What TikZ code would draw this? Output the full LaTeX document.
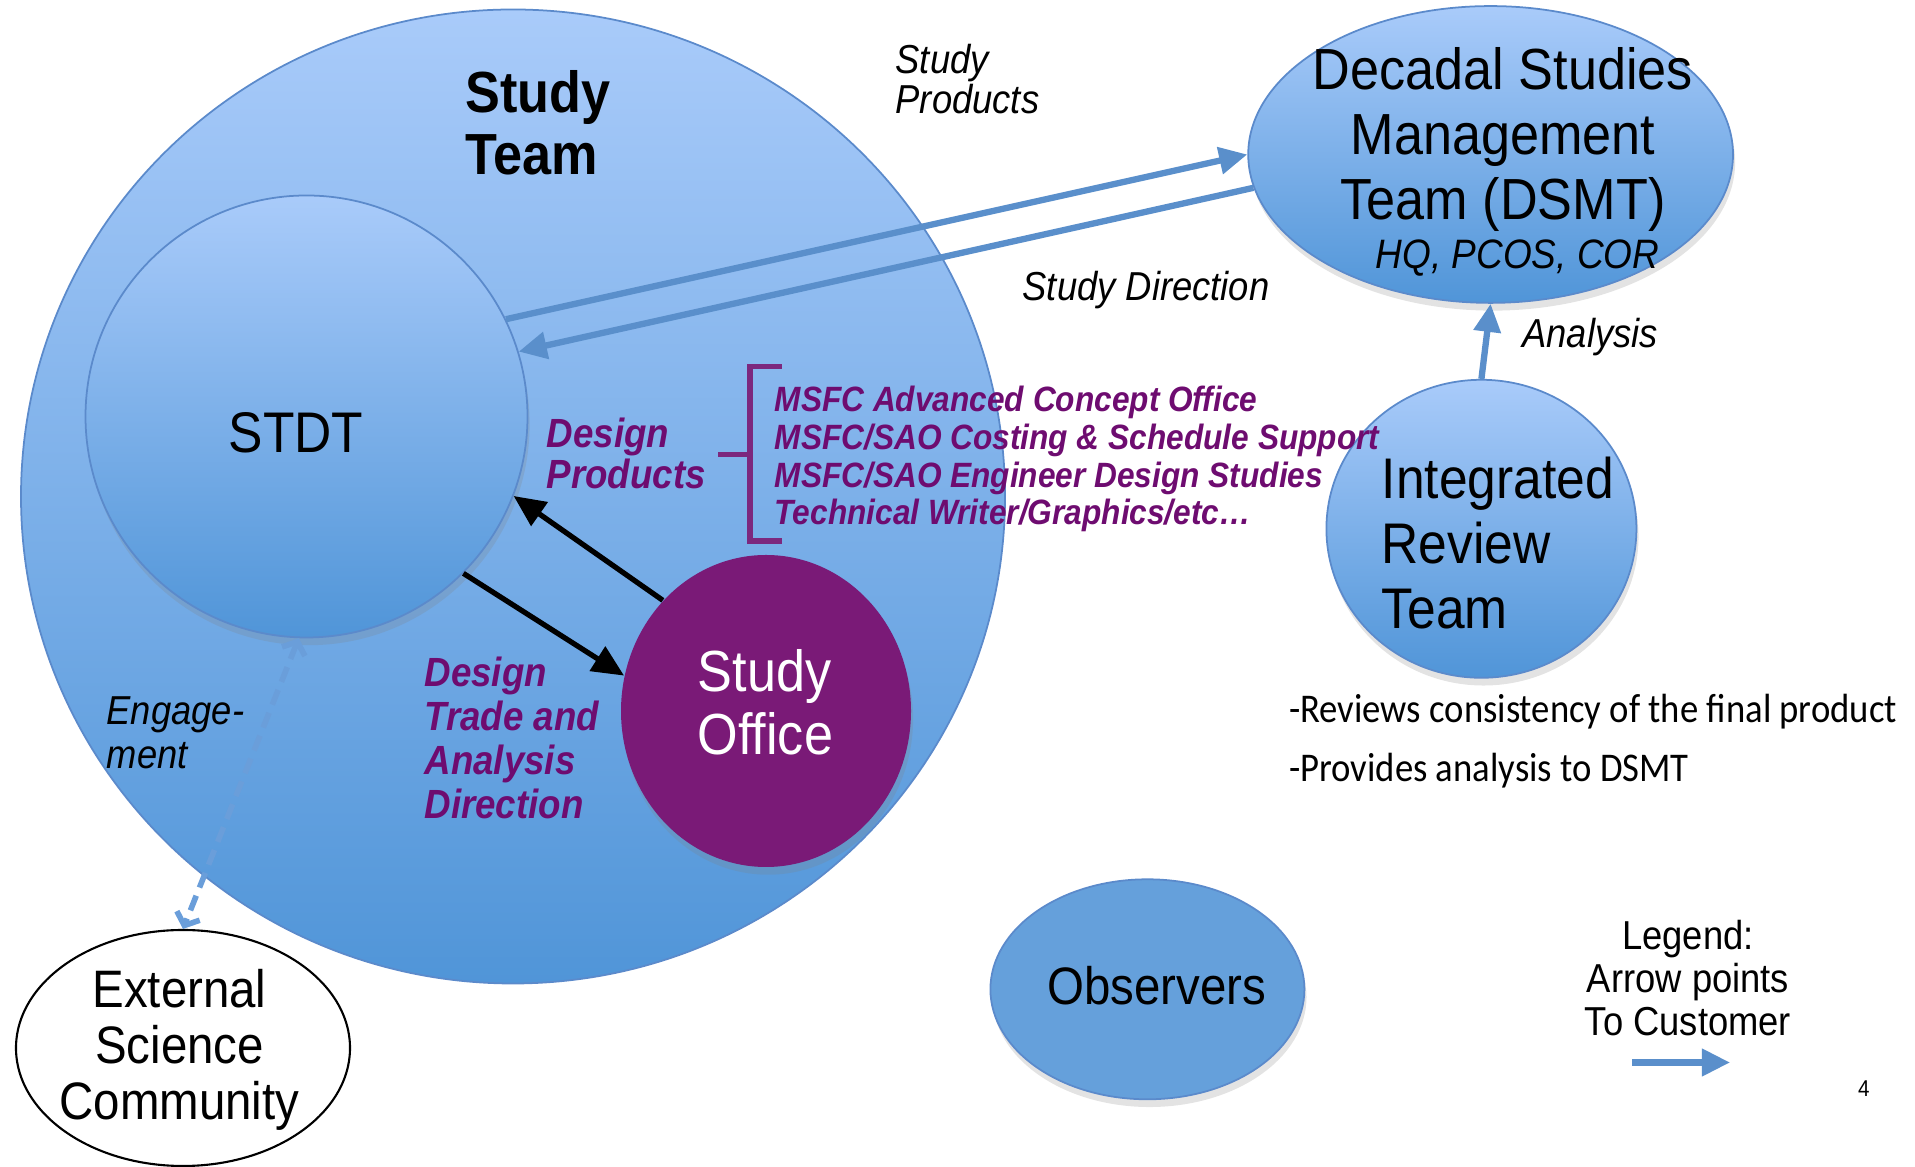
\documentclass[tikz,border=0pt]{standalone}
\usepackage{fontspec}
\setmainfont{Liberation Sans}[FakeStretch=0.9]
\newfontfamily\notefont{Carlito}[FakeStretch=0.9]
\usetikzlibrary{shapes.geometric, arrows.meta, shadows}
\definecolor{teamtop}{HTML}{A9CBFA}
\definecolor{teambottom}{HTML}{5095D8}
\definecolor{rimblue}{HTML}{5B8ACB}
\definecolor{flowblue}{HTML}{5A8FCB}
\definecolor{dashblue}{HTML}{6A9EDA}
\definecolor{observerblue}{HTML}{65A0DB}
\definecolor{officepurple}{HTML}{7A1A77}
\definecolor{labelpurple}{HTML}{6E0C70}
\definecolor{bracketpurple}{HTML}{7C287E}

\begin{document}
\begin{tikzpicture}[
    bubble/.style={ellipse, inner sep=0pt, draw=rimblue, line width=0.5pt, top color=teamtop, bottom color=teambottom},
    softshadow/.style={drop shadow={shadow xshift=0.6pt, shadow yshift=-2.2pt, opacity=0.22}},
    flow/.style={draw=flowblue, line width=1.8pt, -{Triangle[length=8pt, width=7.5pt]}},
    handoff/.style={draw=black, line width=1.5pt, -{Triangle[length=9pt, width=8pt]}},
    engage/.style={draw=dashblue, line width=1.6pt, dash pattern=on 4.5pt off 2.5pt,
      {Straight Barb[length=3pt, width=7pt]}-{Straight Barb[length=3pt, width=7pt]}},
    bracket/.style={draw=bracketpurple, line width=1.5pt},
    label/.style={inner sep=0pt, anchor=base west, align=left},
    bigtext/.style={font=\fontsize{16.3}{18.5}\selectfont},
    smalltext/.style={font=\itshape\fontsize{11.5}{11.4}\selectfont},
    purpletext/.style={text=labelpurple, font=\bfseries\itshape\fontsize{11.6}{12.5}\selectfont}
]
  \useasboundingbox (0,0) rectangle (19.15,11.67);

  % 1. Study team (big bubble) and what sits in it
  \node[bubble, minimum width=9.84cm, minimum height=9.74cm] (team) at (5.13, 6.705) {};
  \node[bubble, softshadow, minimum width=4.42cm, minimum height=4.42cm] (stdt) at (3.065, 7.505) {};
  \node[ellipse, inner sep=0pt, fill=officepurple, softshadow, minimum width=2.9cm, minimum height=3.12cm] (office) at (7.66, 4.56) {};

  % 2. Outside bubbles
  \node[bubble, softshadow, minimum width=4.848cm, minimum height=2.968cm] (dsmt) at (14.906, 10.125) {};
  \node[bubble, softshadow, minimum width=3.1cm, minimum height=2.98cm] (irt) at (14.814, 6.382) {};
  \node[ellipse, inner sep=0pt, fill=observerblue, draw=rimblue, line width=0.5pt, softshadow, minimum width=3.14cm, minimum height=2.2cm] (obs) at (11.474, 1.777) {};
  \node[ellipse, inner sep=0pt, fill=white, draw=black, line width=0.6pt, minimum width=3.34cm, minimum height=2.36cm] (ext) at (1.83, 1.19) {};

  % 3. Arrows
  \draw[flow] (stdt.26) -- (dsmt.180);
  \draw[flow] (dsmt.188) -- (stdt.17);
  \draw[handoff] (office.133) -- (stdt.-21);
  \draw[handoff] (stdt.-45) -- (office.166);
  \draw[flow] (irt.north) -- (dsmt.south);
  \draw[engage] (stdt.-92) -- (ext.north);

  % Design products bracket
  \draw[bracket] (7.816, 8.006) -- (7.50, 8.006) -- (7.50, 6.26) -- (7.816, 6.26);
  \draw[bracket] (7.18, 7.127) -- (7.50, 7.127);

  % 4. Labels (multi-line ones sit on their last baseline)
  \node[label, font=\bfseries\fontsize{16.5}{17.6}\selectfont] (teamlabel) at (4.65, 9.924) {Study\\Team};
  \node[label, smalltext] (prodlabel) at (8.95, 10.534) {Study\\Products};
  \node[label, smalltext] (dirlabel) at (10.22, 8.666) {Study Direction};
  \node[label, smalltext] (analysislabel) at (15.217, 8.19) {Analysis};
  \node[label, bigtext, anchor=base] (stdtlabel) at (2.96, 7.14) {STDT};
  \node[label, purpletext, font=\bfseries\itshape\fontsize{11.6}{11.8}\selectfont] (designlabel) at (5.46, 6.785) {Design\\Products};
  \node[label, purpletext, font=\bfseries\itshape\fontsize{10}{10.8}\selectfont] (supportlabel) at (7.74, 6.42)
    {MSFC Advanced Concept Office\\MSFC/SAO Costing \& Schedule Support\\MSFC/SAO Engineer Design Studies\\Technical Writer/Graphics/etc…};
  \node[label, bigtext] (irtlabel) at (13.81, 5.38) {Integrated\\Review\\Team};
  \node[label, anchor=base, align=center, font=\fontsize{16.5}{18.5}\selectfont] (dsmtlabel) at (15.03, 9.472) {Decadal Studies\\Management\\Team (DSMT)};
  \node[label, anchor=base, font=\itshape\fontsize{11.7}{12}\selectfont] (hqlabel) at (15.175, 8.983) {HQ, PCOS, COR};
  \node[label, text=white, font=\fontsize{16.5}{18.1}\selectfont] (officelabel) at (6.97, 4.123) {Study\\Office};
  \node[label, purpletext] (tradelabel) at (4.238, 3.487) {Design\\Trade and\\Analysis\\Direction};
  \node[label, font=\itshape\fontsize{11.5}{12.5}\selectfont] (engagelabel) at (1.06, 3.988) {Engage-\\ment};
  \node[label, anchor=base, align=center, font=\fontsize{15}{16}\selectfont] (extlabel) at (1.795, 0.47) {External\\Science\\Community};
  \node[label, anchor=base, font=\fontsize{15}{16}\selectfont] (obslabel) at (11.566, 1.62) {Observers};
  \node[label, font=\notefont\fontsize{11.6}{16.7}\selectfont] (notelabel) at (12.885, 3.854)
    {-Reviews consistency of the final product\\-Provides analysis to DSMT};

  % Legend
  \node[label, anchor=base, align=center, font=\fontsize{11.5}{12.2}\selectfont] (legendlabel) at (16.88, 1.313) {Legend:\\Arrow points\\To Customer};
  \coordinate (legtail) at (16.32, 1.045);
  \coordinate (leghead) at (17.30, 1.045);
  \draw[flow] (legtail) -- (leghead);

  \node[label, anchor=base, font=\fontsize{6.5}{7}\selectfont] (pagenum) at (18.637, 0.703) {4};

\end{tikzpicture}
\end{document}
